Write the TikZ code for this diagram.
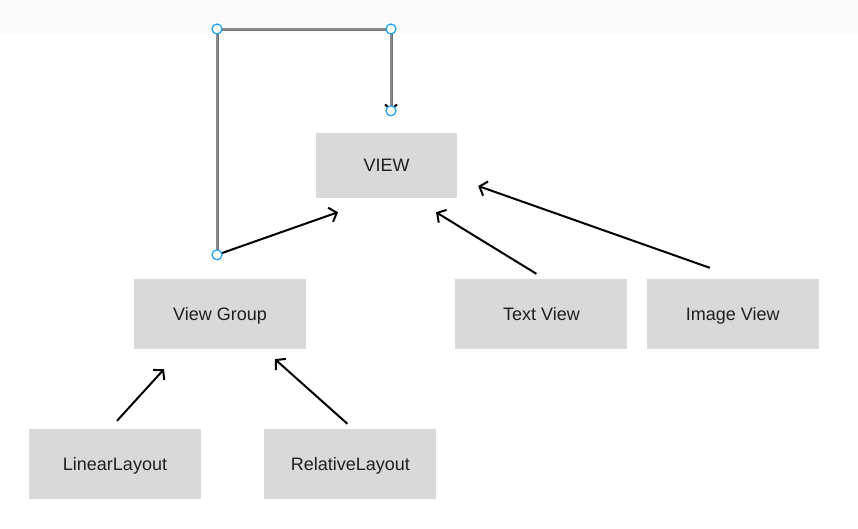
\documentclass[tikz,border=0pt]{standalone}
\usepackage{fontspec}
\setmainfont{Liberation Sans}
\usetikzlibrary{positioning}
\usetikzlibrary{arrows.meta}
\definecolor{boxgray}{RGB}{217,217,217}
\definecolor{handleblue}{RGB}{24,160,251}
\definecolor{linkgray}{RGB}{138,138,138}
\definecolor{bandgray}{RGB}{250,250,250}
\tikzset{
	cls/.style={rectangle, inner sep=0pt, fill=boxgray, text=black!88, font=\fontsize{18}{21}\selectfont, text height=12.9pt, text depth=0pt},
	base/.style={cls, minimum width=141pt, minimum height=65pt},
	sub/.style={cls, minimum width=172pt, minimum height=70pt},
	% selection handles of the edited connector
	handle/.style={circle, draw=handleblue, fill=white, line width=1.2pt, inner sep=0pt, minimum size=10pt},
}

\begin{document}
\begin{tikzpicture}[x=1pt, y=-1pt]
		\useasboundingbox (0,0) rectangle (858,528);
		\fill[bandgray] (0,0) rectangle (858,33);
		
		\node (view) [base] at (386.5,165.5) {VIEW};
		\node (vgroup) [sub] at (220,314) {View Group};
		\node (textv) [sub, right=149pt of vgroup] {Text View};
		\node (imagev) [sub, right=19pt of textv] {Image View};
		\node (linear) [sub] at (115,464) {LinearLayout};
		\node (relative) [sub, right=63pt of linear] {RelativeLayout};
		
		\coordinate (vgtop) at ([xshift=-3pt, yshift=24pt]vgroup.north);
		\coordinate (vend) at ([xshift=4.5pt, yshift=22pt]view.north);
		\coordinate (ltop) at (vgtop |- 0,29);
		\coordinate (rtop) at (vend |- 0,29);
		
		\begin{scope}[line width=2pt, black, -{Straight Barb[length=6.5pt, width=15pt]}]
			\draw (vgtop) -- ([xshift=-48.5pt, yshift=-14pt]view.south);
			\draw ([xshift=-5pt, yshift=5pt]textv.north) -- ([xshift=49.5pt, yshift=-14pt]view.south);
			\draw ([xshift=-23pt, yshift=11pt]imagev.north) -- ([xshift=21pt, yshift=-20.5pt]view.east);
			\draw ([xshift=2pt, yshift=8pt]linear.north) -- ([xshift=-56pt, yshift=-20pt]vgroup.south);
			\draw ([xshift=-3pt, yshift=5pt]relative.north) -- ([xshift=55pt, yshift=-10pt]vgroup.south);
		\end{scope}
		
		\draw[draw=black!55, double=linkgray, line width=0.6pt, double distance=1.8pt,
			-{Straight Barb[length=5pt, width=12pt, line width=2pt, black]}]
			(vgtop) -- (ltop) -- (rtop) -- (vend);
		
		\foreach \h in {vgtop, ltop, rtop, vend}
			\node [handle] at (\h) {};
	\end{tikzpicture}
\end{document}
